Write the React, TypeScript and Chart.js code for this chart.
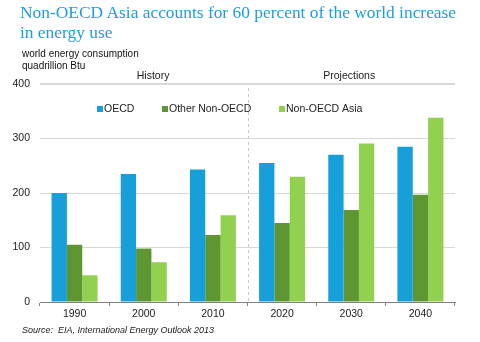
import React, { useEffect, useRef } from "react";
import { Chart, registerables } from "chart.js";

Chart.register(...registerables);

const years = ["1990", "2000", "2010", "2020", "2030", "2040"];
const oecd = [200, 235, 243, 255, 270, 285];
const otherNonOecd = [105, 98, 123, 145, 169, 197];
const nonOecdAsia = [49, 73, 159, 230, 291, 338];
const yTicks = [0, 100, 200, 300, 400];
const periodLabels = ["History", "Projections"];

const COLORS = ["#179FDA", "#5E9732", "#92D050"];
const FONT = "'Liberation Sans', Arial, sans-serif";

const overlayPlugin = {
  id: "overlay",
  afterDatasetsDraw(chart: any) {
    const { ctx, chartArea, scales } = chart;
    const x = scales.x;
    const split = (x.getPixelForValue(2) + x.getPixelForValue(3)) / 2;
    ctx.save();
    // dashed divider
    ctx.strokeStyle = "#C8C8C8";
    ctx.lineWidth = 1;
    ctx.setLineDash([3, 3]);
    ctx.beginPath();
    ctx.moveTo(Math.round(split) + 0.5, chartArea.top + 4);
    ctx.lineTo(Math.round(split) + 0.5, chartArea.bottom);
    ctx.stroke();
    ctx.setLineDash([]);
    // period labels
    ctx.fillStyle = "#222";
    ctx.font = "10.5px " + FONT;
    ctx.textAlign = "center";
    ctx.textBaseline = "middle";
    ctx.fillText(periodLabels[0], chartArea.left + (split - chartArea.left) * 0.545, chartArea.top - 8);
    ctx.fillText(periodLabels[1], split + (chartArea.right - split) * 0.49, chartArea.top - 8);
    // legend
    const legendX = [chartArea.left + 57, chartArea.left + 122, chartArea.left + 239];
    const ly = chartArea.top + 25;
    ctx.textAlign = "left";
    chart.data.datasets.forEach((ds: any, i: number) => {
      ctx.fillStyle = ds.backgroundColor;
      ctx.fillRect(legendX[i], ly - 3, 6, 6);
      ctx.fillStyle = "#222";
      ctx.fillText(ds.label, legendX[i] + 7, ly);
    });
    ctx.restore();
  },
};

export default function App() {
  const ref = useRef<HTMLCanvasElement>(null);
  useEffect(() => {
    if (!ref.current) return;
    const chart = new Chart(ref.current, {
      type: "bar",
      data: {
        labels: years,
        datasets: [
          { label: "OECD", data: oecd, backgroundColor: COLORS[0] },
          { label: "Other Non-OECD", data: otherNonOecd, backgroundColor: COLORS[1] },
          { label: "Non-OECD Asia", data: nonOecdAsia, backgroundColor: COLORS[2] },
        ],
      },
      options: {
        animation: false,
        responsive: false,
        maintainAspectRatio: false,
        datasets: { bar: { barPercentage: 1, categoryPercentage: 0.665 } },
        layout: { padding: { left: 0, right: 25, top: 84, bottom: 18 } },
        plugins: { legend: { display: false }, tooltip: { enabled: false }, title: { display: false } },
        scales: {
          x: {
            afterFit: (s: any) => { s.height = 22; },
            grid: { drawOnChartArea: false, offset: true, tickLength: 4, color: "#808080" },
            border: { display: true, color: "#808080", width: 1 },
            ticks: { color: "#222", padding: 2, font: { size: 10.5, family: FONT } },
          },
          y: {
            min: 0,
            max: 400,
            afterFit: (s: any) => { s.width = 40; },
            afterBuildTicks: (s: any) => { s.ticks = yTicks.map((v) => ({ value: v })); },
            grid: {
              drawTicks: false,
              color: "#D9D9D9",
              lineWidth: (c: any) => (c.tick && c.tick.value === 400 ? 2 : 1),
            },
            border: { display: false },
            ticks: { color: "#222", padding: 10, font: { size: 10.5, family: FONT } },
          },
        },
      },
      plugins: [overlayPlugin],
    });
    return () => chart.destroy();
  }, []);

  return (
    <div style={{ position: "absolute", left: 0, top: 0, width: 480, height: 342, background: "#fff" }}>
      <canvas ref={ref} width={480} height={342} style={{ position: "absolute", left: 0, top: 0 }} />
      <div
        style={{
          position: "absolute",
          left: 20,
          top: 2,
          fontFamily: "'Liberation Serif', 'Times New Roman', serif",
          fontSize: 17.4,
          lineHeight: "20px",
          color: "#1B9FDD",
          whiteSpace: "nowrap",
        }}
      >
        Non-OECD Asia accounts for 60 percent of the world increase
        <br />
        in energy use
      </div>
      <div
        style={{
          position: "absolute",
          left: 22,
          top: 48,
          fontFamily: FONT,
          fontSize: 10,
          lineHeight: "12px",
          color: "#111",
          whiteSpace: "nowrap",
        }}
      >
        world energy consumption
        <br />
        quadrillion Btu
      </div>
      <div
        style={{
          position: "absolute",
          left: 22,
          top: 325,
          fontFamily: FONT,
          fontSize: 9,
          fontStyle: "italic",
          color: "#222",
          whiteSpace: "pre",
        }}
      >
        {"Source:  EIA, International Energy Outlook 2013"}
      </div>
    </div>
  );
}
